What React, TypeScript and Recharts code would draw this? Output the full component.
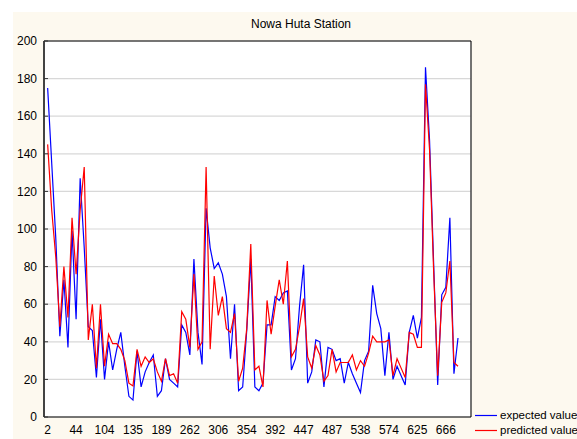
import { LineChart, Line, XAxis, YAxis, CartesianGrid, ReferenceArea } from 'recharts';

// case numbers printed under the x axis (every 7th observation)
const caseLabels = ['2', '44', '104', '135', '189', '262', '306', '354', '392', '447', '487', '538', '574', '625', '666'];

const expectedValues = [
  175, 135, 95, 43, 73, 37, 99, 52, 127, 90,
  48, 46, 21, 52, 20, 40, 25, 36, 45, 27,
  11, 9, 35, 16, 24, 29, 33, 11, 14, 31,
  20, 18, 16, 49, 45, 33, 84, 45, 28, 111,
  90, 79, 82, 76, 64, 31, 60, 14, 16, 46,
  84, 16, 14, 18, 49, 49, 64, 62, 66, 67,
  25, 31, 59, 81, 18, 24, 41, 40, 16, 37,
  36, 30, 31, 18, 29, 23, 18, 13, 30, 35,
  70, 55, 47, 22, 45, 20, 27, 22, 17, 45,
  54, 42, 53, 186, 147, 82, 17, 65, 69, 106,
  23, 42,
];

const predictedValues = [
  145, 110, 85, 48, 80, 53, 106, 76, 110, 133,
  41, 60, 26, 60, 27, 44, 39, 39, 36, 30,
  18, 16.5, 36, 27, 32, 29, 31, 24, 19, 31,
  22, 23, 18, 56, 52, 37, 76, 36, 40, 133,
  36, 75, 54, 64, 47, 45, 55, 19, 26, 47,
  92, 25, 27, 16, 62, 44, 59, 73, 60, 83,
  32, 36, 48, 63, 32, 26, 38, 33, 19, 22,
  36, 24, 29, 29, 29, 33, 25, 30, 27, 34,
  43, 40, 40, 40, 41, 22, 31, 26, 21, 45,
  44, 37, 37, 177, 142, 78, 22, 61, 66, 83,
  29, 27,
];

const yTicks = [0, 20, 40, 60, 80, 100, 120, 140, 160, 180, 200];
const labelEvery = 7;
const gridEvery = 5;

const data = expectedValues.map((v, i) => ({ i, expected: v, predicted: predictedValues[i] }));
const labelTicks = caseLabels.map((_, k) => k * labelEvery);
const gridTicks = Array.from({ length: Math.floor(expectedValues.length / gridEvery) + 1 }, (_, k) => k * gridEvery);
const xDomain: [number, number] = [-0.9, 104.2];

const font = '"Liberation Sans", Arial, sans-serif';
const tickStyle = { fontSize: 12, fill: '#000' };

const legendItems = [
  { name: 'expected value', color: '#0000ff' },
  { name: 'predicted value', color: '#ff0000' },
];

export default function App() {
  return (
    <div style={{ position: 'absolute', left: 0, top: 0, width: 577, height: 439, background: '#fff', fontFamily: font, overflow: 'hidden' }}>
      <div style={{ position: 'absolute', left: 13, top: 12, width: 564, height: 427, background: '#fdf9ef' }}>
        <div style={{ position: 'absolute', left: 0, width: 576, top: 5, textAlign: 'center', fontSize: 12, color: '#000' }}>
          Nowa Huta Station
        </div>
        <LineChart width={564} height={427} data={data} margin={{ top: 29, right: 106, left: 0, bottom: 0 }}>
          <CartesianGrid xAxisId="g" stroke="#d8d8d8" strokeWidth={1.2} fill="#fff" />
          <XAxis
            xAxisId="g"
            type="number"
            dataKey="i"
            domain={xDomain}
            allowDataOverflow
            ticks={gridTicks}
            interval={0}
            tick={false}
            tickSize={-4}
            height={0}
            axisLine={{ stroke: '#333', strokeWidth: 1.5 }}
            tickLine={{ stroke: '#333' }}
          />
          <XAxis
            xAxisId="lab"
            type="number"
            dataKey="i"
            domain={xDomain}
            allowDataOverflow
            ticks={labelTicks}
            interval={0}
            tickFormatter={(v: number) => caseLabels[Math.round(v / labelEvery)] ?? ''}
            axisLine={false}
            tickLine={false}
            tick={tickStyle}
            height={22}
          />
          <YAxis
            domain={[0, 200]}
            ticks={yTicks}
            interval={0}
            width={31}
            tickSize={-4}
            tickMargin={11}
            tick={tickStyle}
            axisLine={{ stroke: '#333', strokeWidth: 1.5 }}
            tickLine={{ stroke: '#333' }}
          />
          <ReferenceArea xAxisId="g" x1={xDomain[0]} x2={xDomain[1]} y1={0} y2={200} fill="none" fillOpacity={0} stroke="#000" strokeWidth={1} />
          <Line xAxisId="g" type="linear" dataKey="expected" stroke="#0000ff" strokeWidth={1.2} dot={false} isAnimationActive={false} />
          <Line xAxisId="g" type="linear" dataKey="predicted" stroke="#ff0000" strokeWidth={1.2} dot={false} isAnimationActive={false} />
        </LineChart>
        <div style={{ position: 'absolute', left: 462, top: 396, fontSize: 11.5, color: '#000', lineHeight: '15px', whiteSpace: 'nowrap' }}>
          {legendItems.map((item) => (
            <div key={item.name} style={{ display: 'flex', alignItems: 'center' }}>
              <svg width={22} height={15} style={{ marginRight: 3 }}>
                <line x1={0} x2={22} y1={7.5} y2={7.5} stroke={item.color} strokeWidth={1.2} />
              </svg>
              {item.name}
            </div>
          ))}
        </div>
      </div>
    </div>
  );
}
